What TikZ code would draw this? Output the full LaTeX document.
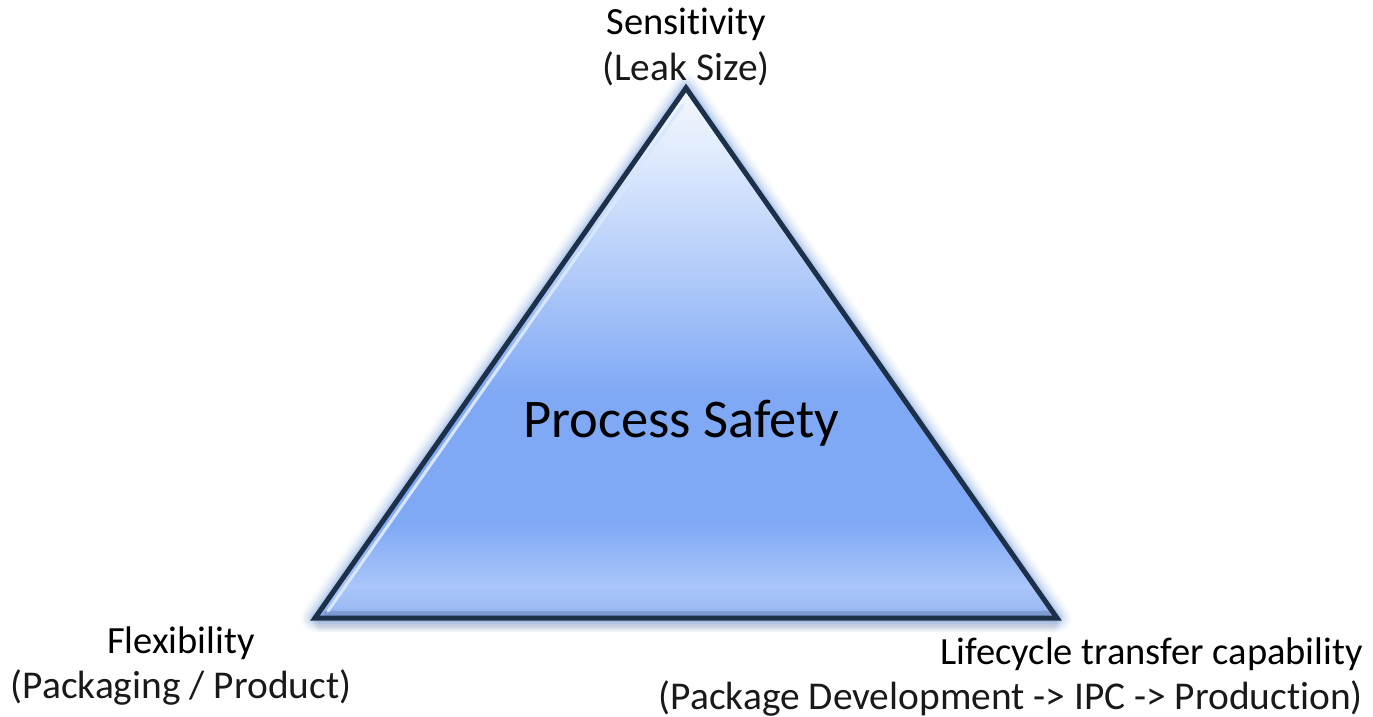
\documentclass[tikz,border=0pt]{standalone}
\usepackage{fontspec}
\setmainfont{Carlito}[Ligatures=NoCommon]
\usetikzlibrary{calc}

\definecolor{edge}{HTML}{1D3049}
\definecolor{glow}{HTML}{5C8FDB}
\definecolor{hilite}{HTML}{D8E7FF}
\definecolor{shadowgray}{HTML}{6A7480}
\definecolor{c0}{HTML}{7E9DDA}
\definecolor{c1}{HTML}{9DBBF4}
\definecolor{c2}{HTML}{A9C5F9}
\definecolor{c3}{HTML}{7FA8F5}
\definecolor{c4}{HTML}{BCD2FA}
\definecolor{c5}{HTML}{E0EBFD}
\definecolor{c6}{HTML}{F4F8FE}

% vertical fill of the triangle: the path's box maps to 25bp..75bp
\pgfdeclareverticalshading{trifill}{100bp}{%
  color(0bp)=(c0); color(25bp)=(c0); color(26bp)=(c1); color(28bp)=(c2);
  color(34bp)=(c3); color(46bp)=(c3); color(60bp)=(c4); color(69bp)=(c5);
  color(75bp)=(c6); color(100bp)=(c6)}

\tikzset{
  head/.style={inner sep=0pt, font=\fontsize{38.5}{46}\selectfont, text=black},
  sub/.style={inner sep=0pt, font=\fontsize{39.4}{46}\selectfont, text=black!90},
  big/.style={inner sep=0pt, font=\fontsize{54.5}{62}\selectfont, text=black},
}

\begin{document}
\begin{tikzpicture}[x=1pt, y=-1pt]
  \useasboundingbox (0,0) rectangle (1373,717);
  \fill[white] (0,0) rectangle (1373,717);

  % triangle corners
  \coordinate (A) at (686,88);
  \coordinate (L) at (315,618);
  \coordinate (R) at (1057,618);

  % soft shadow under the base
  \foreach \w/\o in {16/0.05,12/0.07,8/0.09}
    \draw[shadowgray, opacity=\o, line width=\w pt, line cap=round]
      ($(L)+(6,6)$) -- ($(R)+(-4,6)$);

  % blue halo round the triangle
  \foreach \w/\o in {28/0.06,22/0.08,17/0.10,12/0.13,8/0.18}
    \draw[glow, opacity=\o, line width=\w pt, line join=round]
      (A) -- (L) -- (R) -- cycle;

  % body
  \shade[shading=trifill] (A) -- (L) -- (R) -- cycle;

  % bevel: darker band on the base, light line on the left side
  \draw[c0!80!edge, opacity=0.45, line width=5pt] ($(L)+(9,-5)$) -- ($(R)+(-7,-5)$);
  \draw[hilite, line width=3pt, line cap=round] (328,611) -- (683,105);

  % outline
  \draw[edge, line width=5pt, line join=miter, miter limit=20] (A) -- (L) -- (R) -- cycle;

  % labels
  \node[head, anchor=base] (sens) at (686,35) {Sensitivity};
  \node[sub, anchor=base] (leak) at (686,81) {(Leak Size)};
  \node[big, anchor=base] (ps) at (681,437) {Process Safety};
  \node[head, anchor=base] (flex) at (181,653) {Flexibility};
  \node[sub, anchor=base] (pack) at (181,698) {(Packaging / Product)};
  \node[head, anchor=base east] (life) at (1363,664) {Lifecycle transfer capability};
  \node[sub, anchor=base east] (dev) at (1363,709) {(Package Development -> IPC -> Production)};
\end{tikzpicture}
\end{document}
